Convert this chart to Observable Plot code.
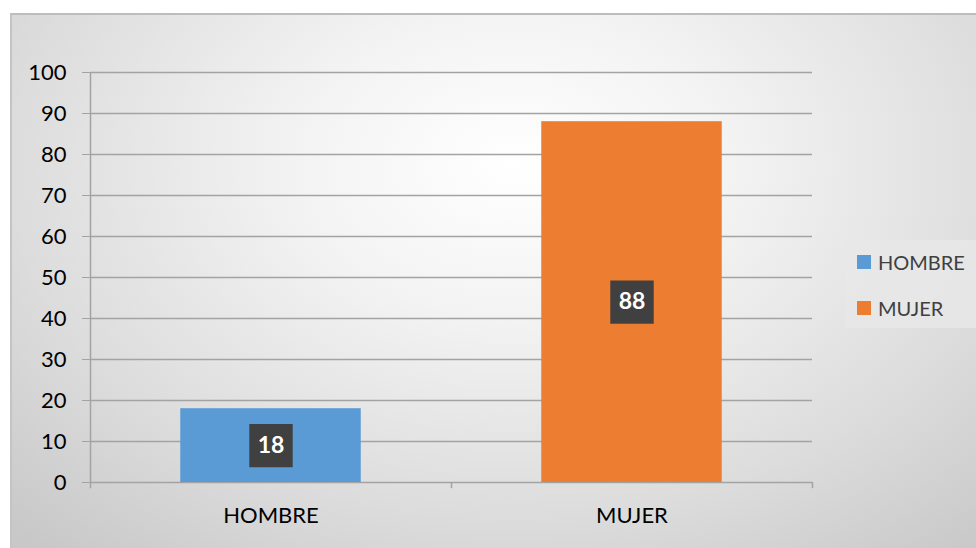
<!DOCTYPE html>
<html>
<head>
<meta charset="utf-8">
<script src="https://cdn.jsdelivr.net/npm/d3@7"></script>
<script src="https://cdn.jsdelivr.net/npm/@observablehq/plot@0.6"></script>
<style>
  html, body { margin: 0; padding: 0; background: #ffffff; }
  #wrap { position: relative; width: 976px; height: 548px; overflow: hidden; }
  #bg { position: absolute; left: 10px; top: 13px; width: 966px; height: 535px;
        border-top: 2px solid #bdbdbd; border-left: 2px solid #c4c4c4; box-sizing: border-box;
        background: radial-gradient(ellipse 75% 95% at 52% 28%, #ffffff 0%, #f3f3f3 30%, #dcdcdc 70%, #c8c8c8 100%); }
  #chart { position: absolute; left: 0; top: 0; }
  #legend { position: absolute; left: 845px; top: 240px; width: 131px; height: 88px;
            background: rgba(232,232,232,0.85); font-family: Lato, "Open Sans", sans-serif;
            font-size: 20px; color: #404040; }
  .item { position: absolute; left: 12px; display: flex; align-items: center; }
  .sw { width: 14px; height: 14px; margin-right: 7px; }
</style>
</head>
<body>
<div id="wrap">
  <div id="bg"></div>
  <div id="chart"></div>
  <div id="legend"></div>
</div>
<script>
const categories = ["HOMBRE", "MUJER"];
const values = [18, 88];
const colors = ["#5B9BD5", "#ED7D31"];
const yTicks = [0, 10, 20, 30, 40, 50, 60, 70, 80, 90, 100];

const data = categories.map((c, i) => ({category: c, value: values[i], color: colors[i]}));

const W = 976, H = 548, mL = 90, mR = 164, mT = 72, mB = 66;
const bw = (W - mL - mR) / categories.length;
const font = "Lato, 'Open Sans', sans-serif";

const plot = Plot.plot({
  width: W, height: H,
  marginLeft: mL, marginRight: mR, marginTop: mT, marginBottom: mB,
  style: {background: "transparent", fontFamily: font, color: "#000"},
  x: {domain: categories, padding: 0, label: null},
  y: {domain: [0, 100], label: null},
  marks: [
    Plot.ruleY(yTicks, {stroke: "#a3a3a3", strokeWidth: 1.5}),
    Plot.barY(data, {x: "category", y: "value", fill: "color", insetLeft: bw / 4, insetRight: bw / 4}),
    Plot.ruleX(categories, {x: d => d, dx: -bw / 2, y1: -1.5, y2: d => d === categories[0] ? 100 : 0, stroke: "#a3a3a3", strokeWidth: 1.5}),
    Plot.ruleX([categories[categories.length - 1]], {x: d => d, dx: bw / 2, y1: -1.5, y2: 0, stroke: "#a3a3a3", strokeWidth: 1.5}),
    Plot.axisY({ticks: yTicks, tickSize: 8, tickPadding: 16, fontSize: 22, stroke: "#a3a3a3", fill: "#000"}),
    Plot.axisX({tickSize: 0, tickPadding: 25, fontSize: 22, fill: "#000"}),
    Plot.dot(data, {x: "category", y: d => d.value / 2, symbol: "square", r: 24.5, fill: "#404040",
      style: "filter: drop-shadow(3px 4px 3px rgba(0,0,0,0.45))"}),
    Plot.text(data, {x: "category", y: d => d.value / 2, text: d => String(d.value), fill: "white",
      fontWeight: "bold", fontSize: 23})
  ]
});
document.getElementById("chart").appendChild(plot);

const legend = document.getElementById("legend");
data.forEach((d, i) => {
  const it = document.createElement("div");
  it.className = "item";
  it.style.top = (10 + i * 46) + "px";
  it.innerHTML = `<span class="sw" style="background:${d.color}"></span><span>${d.category}</span>`;
  legend.appendChild(it);
});
</script>
</body>
</html>
